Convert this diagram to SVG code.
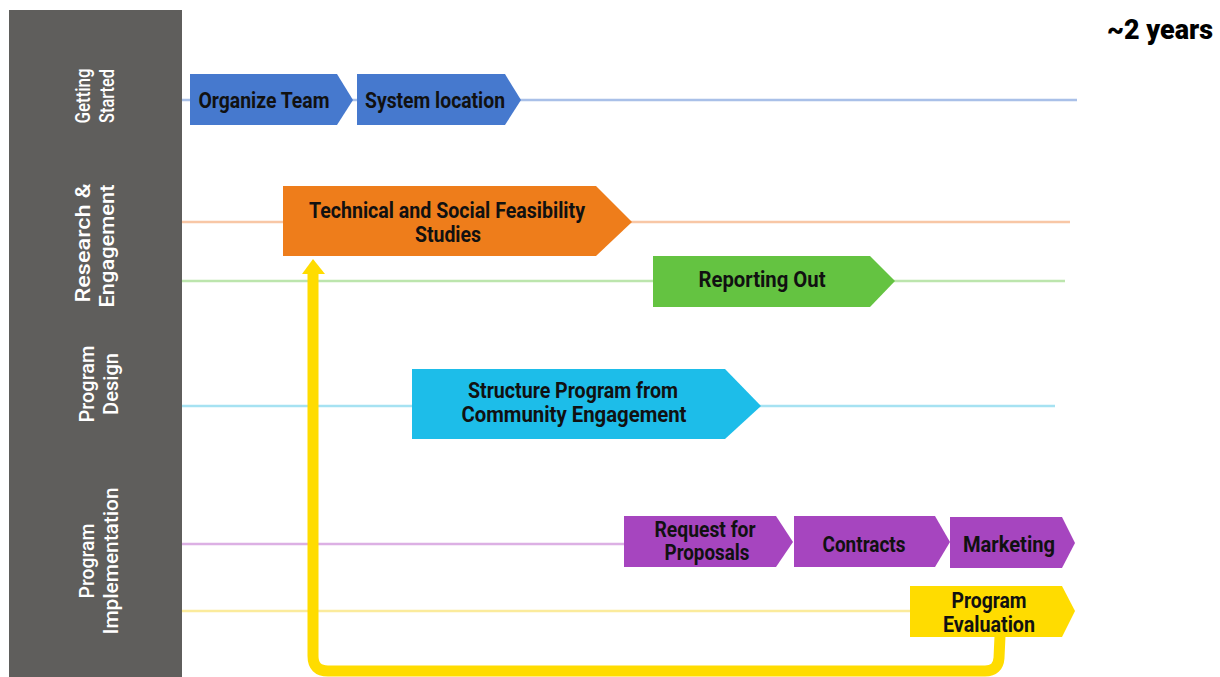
<svg xmlns="http://www.w3.org/2000/svg" width="1220" height="677" viewBox="0 0 1220 677">
<style>
.lbl{font-family:Roboto,"Liberation Sans",sans-serif;font-weight:700;font-size:22px;fill:#111;}
.side{font-family:Roboto,"Liberation Sans",sans-serif;font-weight:500;font-size:20px;fill:#fff;}
.yr{font-family:Roboto,"Liberation Sans",sans-serif;font-weight:900;font-size:27px;fill:#000;}
.ln{stroke-width:2.5;fill:none;}
</style>
<rect x="0" y="0" width="1220" height="677" fill="#fff"/>
<g id="sidebar">
<rect x="9" y="10" width="173" height="667" fill="#5f5e5c"/>
<text class="side" transform="translate(90,96) rotate(-90)" text-anchor="middle" textLength="55" lengthAdjust="spacingAndGlyphs">Getting</text>
<text class="side" transform="translate(114,96) rotate(-90)" text-anchor="middle" textLength="54" lengthAdjust="spacingAndGlyphs">Started</text>
<text class="side" transform="translate(90,243) rotate(-90)" text-anchor="middle" textLength="119" lengthAdjust="spacingAndGlyphs">Research &amp;</text>
<text class="side" transform="translate(114,246) rotate(-90)" text-anchor="middle" textLength="123" lengthAdjust="spacingAndGlyphs">Engagement</text>
<text class="side" transform="translate(94,384) rotate(-90)" text-anchor="middle" textLength="77" lengthAdjust="spacingAndGlyphs">Program</text>
<text class="side" transform="translate(118,384) rotate(-90)" text-anchor="middle" textLength="62" lengthAdjust="spacingAndGlyphs">Design</text>
<text class="side" transform="translate(94,561) rotate(-90)" text-anchor="middle" textLength="75" lengthAdjust="spacingAndGlyphs">Program</text>
<text class="side" transform="translate(118,561) rotate(-90)" text-anchor="middle" textLength="147" lengthAdjust="spacingAndGlyphs">Implementation</text>
</g>
<g id="lanes">
<line class="ln" x1="182" y1="100" x2="1077" y2="100" stroke="#a9c0e8"/>
<line class="ln" x1="182" y1="222" x2="1070" y2="222" stroke="#f8c7a6"/>
<line class="ln" x1="182" y1="281" x2="1065" y2="281" stroke="#bce5ad"/>
<line class="ln" x1="182" y1="406" x2="1055" y2="406" stroke="#a6e2f2"/>
<line class="ln" x1="182" y1="544" x2="625" y2="544" stroke="#dcb0e4"/>
<line class="ln" x1="182" y1="611" x2="910" y2="611" stroke="#fbeb9c"/>
</g>
<text class="yr" x="1160" y="39" text-anchor="middle" textLength="106" lengthAdjust="spacingAndGlyphs">~2 years</text>
<g id="organize-team">
<polygon points="190,74 337,74 353,100 337,125 190,125" fill="#4679ce"/>
<text class="lbl" x="264" y="108" text-anchor="middle" textLength="131" lengthAdjust="spacingAndGlyphs">Organize Team</text>
</g>
<g id="system-location">
<polygon points="357,74 505,74 521,100 505,125 357,125" fill="#4679ce"/>
<text class="lbl" x="435" y="108" text-anchor="middle" textLength="140" lengthAdjust="spacingAndGlyphs">System location</text>
</g>
<g id="feasibility">
<polygon points="283,186 596,186 632,222 596,256 283,256" fill="#ee7d1b"/>
<text class="lbl" x="447" y="218" text-anchor="middle" textLength="276" lengthAdjust="spacingAndGlyphs">Technical and Social Feasibility</text>
<text class="lbl" x="448" y="242" text-anchor="middle" textLength="66" lengthAdjust="spacingAndGlyphs">Studies</text>
</g>
<g id="reporting-out">
<polygon points="653,256 870,256 895,281 870,307 653,307" fill="#64c341"/>
<text class="lbl" x="762" y="287" text-anchor="middle" textLength="127" lengthAdjust="spacingAndGlyphs">Reporting Out</text>
</g>
<g id="structure-program">
<polygon points="412,369 725,369 761,406 725,439 412,439" fill="#1dbde9"/>
<text class="lbl" x="573" y="398" text-anchor="middle" textLength="210" lengthAdjust="spacingAndGlyphs">Structure Program from</text>
<text class="lbl" x="574" y="422" text-anchor="middle" textLength="225" lengthAdjust="spacingAndGlyphs">Community Engagement</text>
</g>
<g id="rfp">
<polygon points="624,516 776,516 793,542 776,567 624,567" fill="#a645bf"/>
<text class="lbl" x="705" y="537" text-anchor="middle" textLength="101" lengthAdjust="spacingAndGlyphs">Request for</text>
<text class="lbl" x="707" y="560" text-anchor="middle" textLength="85" lengthAdjust="spacingAndGlyphs">Proposals</text>
</g>
<g id="contracts">
<polygon points="794,516 935,516 950,542 935,567 794,567" fill="#a645bf"/>
<text class="lbl" x="864" y="552" text-anchor="middle" textLength="83" lengthAdjust="spacingAndGlyphs">Contracts</text>
</g>
<g id="marketing">
<polygon points="950,517 1062,517 1075,543 1062,568 950,568" fill="#a645bf"/>
<text class="lbl" x="1009" y="552" text-anchor="middle" textLength="92" lengthAdjust="spacingAndGlyphs">Marketing</text>
</g>
<g id="program-evaluation">
<polygon points="910,586 1062,586 1075,611 1062,637 910,637" fill="#ffdc00"/>
<text class="lbl" x="989" y="608" text-anchor="middle" textLength="75" lengthAdjust="spacingAndGlyphs">Program</text>
<text class="lbl" x="989" y="632" text-anchor="middle" textLength="92" lengthAdjust="spacingAndGlyphs">Evaluation</text>
</g>
<g id="connectors">
<path d="M1000,636 L999,658 Q998,671 985,671 L328,671 Q313,671 313,656 L313,272" fill="none" stroke="#ffdc00" stroke-width="11"/>
<polygon points="313,259 302,274 325,274" fill="#ffdc00"/>
</g>
</svg>
